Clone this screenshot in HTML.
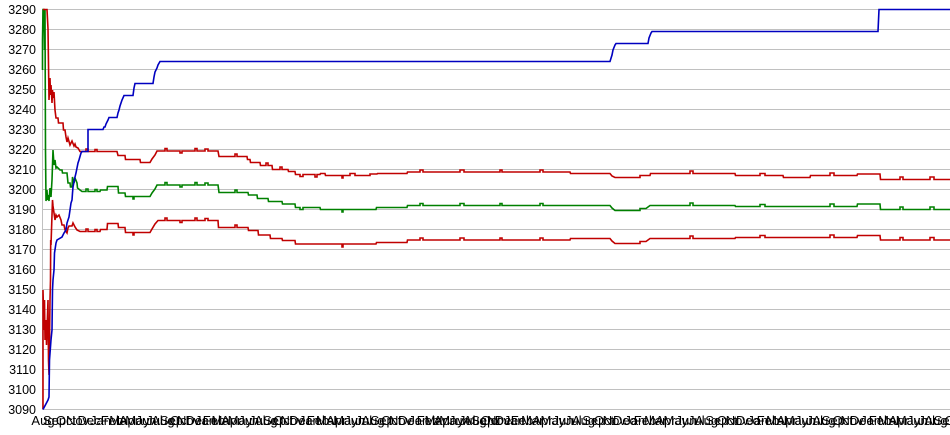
<!DOCTYPE html>
<html><head><meta charset="utf-8"><style>
html,body{margin:0;padding:0;background:#fff;}
svg{display:block;}
text{font-family:"Liberation Sans",Arial,sans-serif;}
</style></head><body>
<svg width="950" height="435" viewBox="0 0 950 435" xmlns="http://www.w3.org/2000/svg">
<rect width="950" height="435" fill="#fff"/>
<g stroke="#c0c0c0" stroke-width="1">
<line x1="43" y1="9.5" x2="950" y2="9.5"/><line x1="43" y1="29.5" x2="950" y2="29.5"/><line x1="43" y1="49.5" x2="950" y2="49.5"/><line x1="43" y1="69.5" x2="950" y2="69.5"/><line x1="43" y1="89.5" x2="950" y2="89.5"/><line x1="43" y1="109.5" x2="950" y2="109.5"/><line x1="43" y1="129.5" x2="950" y2="129.5"/><line x1="43" y1="149.5" x2="950" y2="149.5"/><line x1="43" y1="169.5" x2="950" y2="169.5"/><line x1="43" y1="189.5" x2="950" y2="189.5"/><line x1="43" y1="209.5" x2="950" y2="209.5"/><line x1="43" y1="229.5" x2="950" y2="229.5"/><line x1="43" y1="249.5" x2="950" y2="249.5"/><line x1="43" y1="269.5" x2="950" y2="269.5"/><line x1="43" y1="289.5" x2="950" y2="289.5"/><line x1="43" y1="309.5" x2="950" y2="309.5"/><line x1="43" y1="329.5" x2="950" y2="329.5"/><line x1="43" y1="349.5" x2="950" y2="349.5"/><line x1="43" y1="369.5" x2="950" y2="369.5"/><line x1="43" y1="389.5" x2="950" y2="389.5"/><line x1="43" y1="409.5" x2="950" y2="409.5"/>
<line x1="42.5" y1="9.5" x2="42.5" y2="409.5"/>
</g>
<g font-size="12.5" fill="#000" text-anchor="end">
<text x="36" y="14">3290</text><text x="36" y="34">3280</text><text x="36" y="54">3270</text><text x="36" y="74">3260</text><text x="36" y="94">3250</text><text x="36" y="114">3240</text><text x="36" y="134">3230</text><text x="36" y="154">3220</text><text x="36" y="174">3210</text><text x="36" y="194">3200</text><text x="36" y="214">3190</text><text x="36" y="234">3180</text><text x="36" y="254">3170</text><text x="36" y="274">3160</text><text x="36" y="294">3150</text><text x="36" y="314">3140</text><text x="36" y="334">3130</text><text x="36" y="354">3120</text><text x="36" y="374">3110</text><text x="36" y="394">3100</text><text x="36" y="414">3090</text>
</g>
<g font-size="13" fill="#000" text-anchor="middle">
<text x="43" y="425">Aug</text><text x="54.5" y="425">Sep</text><text x="66" y="425">Oct</text><text x="77.5" y="425">Nov</text><text x="89" y="425">Dec</text><text x="100.5" y="425">Jan</text>
<text x="112" y="425">Feb</text><text x="120.5" y="425">Mar</text><text x="129" y="425">Apr</text><text x="137.5" y="425">May</text><text x="146" y="425">Jun</text><text x="154.5" y="425">Jul</text><text x="163" y="425">Aug</text><text x="171.5" y="425">Sep</text><text x="180" y="425">Oct</text><text x="188.5" y="425">Nov</text><text x="197" y="425">Dec</text><text x="205.5" y="425">Jan</text>
<text x="214" y="425">Feb</text><text x="222.7" y="425">Mar</text><text x="231.3" y="425">Apr</text><text x="240" y="425">May</text><text x="248.7" y="425">Jun</text><text x="257.3" y="425">Jul</text><text x="266" y="425">Aug</text><text x="274.7" y="425">Sep</text><text x="283.3" y="425">Oct</text><text x="292" y="425">Nov</text><text x="300.7" y="425">Dec</text><text x="309.3" y="425">Jan</text>
<text x="318" y="425">Feb</text><text x="327.2" y="425">Mar</text><text x="336.3" y="425">Apr</text><text x="345.5" y="425">May</text><text x="354.7" y="425">Jun</text><text x="363.8" y="425">Jul</text><text x="373" y="425">Aug</text><text x="382.2" y="425">Sep</text><text x="391.3" y="425">Oct</text><text x="400.5" y="425">Nov</text><text x="409.7" y="425">Dec</text><text x="418.8" y="425">Jan</text>
<text x="428" y="425">Feb</text><text x="435.8" y="425">Mar</text><text x="443.7" y="425">Apr</text><text x="451.5" y="425">May</text><text x="459.3" y="425">Jun</text><text x="467.2" y="425">Jul</text><text x="475" y="425">Aug</text><text x="482.8" y="425">Sep</text><text x="490.7" y="425">Oct</text><text x="498.5" y="425">Nov</text><text x="506.3" y="425">Dec</text><text x="514.2" y="425">Jan</text>
<text x="522" y="425">Feb</text><text x="532.3" y="425">Mar</text><text x="542.5" y="425">Apr</text><text x="552.8" y="425">May</text><text x="563" y="425">Jun</text><text x="573.3" y="425">Jul</text><text x="583.5" y="425">Aug</text><text x="593.8" y="425">Sep</text><text x="604" y="425">Oct</text><text x="614.3" y="425">Nov</text><text x="624.5" y="425">Dec</text><text x="634.8" y="425">Jan</text>
<text x="645" y="425">Feb</text><text x="655.3" y="425">Mar</text><text x="665.5" y="425">Apr</text><text x="675.8" y="425">May</text><text x="686" y="425">Jun</text><text x="696.3" y="425">Jul</text><text x="706.5" y="425">Aug</text><text x="716.8" y="425">Sep</text><text x="727" y="425">Oct</text><text x="737.3" y="425">Nov</text><text x="747.5" y="425">Dec</text><text x="757.8" y="425">Jan</text>
<text x="768" y="425">Feb</text><text x="777.3" y="425">Mar</text><text x="786.7" y="425">Apr</text><text x="796" y="425">May</text><text x="805.3" y="425">Jun</text><text x="814.7" y="425">Jul</text><text x="824" y="425">Aug</text><text x="833.3" y="425">Sep</text><text x="842.7" y="425">Oct</text><text x="852" y="425">Nov</text><text x="861.3" y="425">Dec</text><text x="870.7" y="425">Jan</text>
<text x="880" y="425">Feb</text><text x="889.3" y="425">Mar</text><text x="898.7" y="425">Apr</text><text x="908" y="425">May</text><text x="917.3" y="425">Jun</text><text x="926.7" y="425">Jul</text><text x="936" y="425">Aug</text><text x="945.3" y="425">Sep</text><text x="954.7" y="425">Oct</text>
</g>
<g fill="none" stroke-width="1.6" stroke-linejoin="miter">
<polyline stroke="#008000" points="42.5,70 42.5,40 43,9.5 44,9.5 44.5,50 45,9.5 45.5,150 46,201 47,190 47.5,200 48,195 49,201 50,188 51,197 52,180 53,150 54,165 55,160 56,168 57,167 60,170 62,170 62.5,173 67,173 68,183 70,183 70.5,187 72,187 72.5,177 74,183 75,178 77,183 77.5,188 80,190 82,191.5 86,191.5 86,189 88,189 88,191.5 95,191.5 95,189.5 97,189.5 97,191.5 100,191.5 100.5,190 107,190 107.5,186.5 118,186.5 118.5,193 125,193 125.5,196.5 133,196.5 133,199 134,199 134,196.5 150,196.5 152,193 155,189 157,185 165,185 165,182.5 167,182.5 167,185 180,185 180,187 182,187 182,185 195,185 195,182.5 197,182.5 197,185 205,185 205,183 208,183 208,185 218,185 219,192.5 235,192.5 235,190 237,190 237,192.5 248,192.5 248.5,195 257,195 257.5,198.5 268,198.5 268.5,201.5 282,201.5 282.5,204 295,204 295.5,207.5 300,207.5 300,209.5 303,209.5 303,207.5 320,207.5 320.5,209.5 342,209.5 342,212 343,212 343,209.5 376,209.5 376.5,207.5 407,207.5 407.5,205.5 420,205.5 420,203.5 423,203.5 423,205.5 460,205.5 460,203.5 464,203.5 464,205.5 500,205.5 500,203.5 502,203.5 502,205.5 540,205.5 540,203.5 543,203.5 543,205.5 610,205.5 612,208 615,210.5 640,210.5 640,208.5 646,208.5 650,205.5 690,205.5 690,203 693,203 693,205.5 735,205.5 735.5,206.5 760,206.5 760,204.5 765,204.5 765,206.5 830,206.5 830,204 834,204 834,206.5 857,206.5 857.5,204 880,204 880.5,209.5 900,209.5 900,207 903,207 903,209.5 930,209.5 930,207 934,207 934,209.5 950,209.5"/>
<polyline stroke="#c00000" points="43,9.5 47,9.5 48,29 49,100 50,78 50.5,95 51,85 52,103 52.5,90 53,98 54,92 55,110 56,118 58,118 58.5,123 63,123 63.5,130 65,130 66,137 67,142 68,138 70,145 72,141 74,146 75,144 76,147 78,148 80,151.5 86,151.5 86,149 88,149 88,151.5 95,151.5 95,149.5 97,149.5 97,151.5 117,151.5 118,155.5 125,155.5 125.5,159.5 140,159.5 140.5,162.5 150,162.5 152,159 155,155 157,151 165,151 165,148.5 167,148.5 167,151 180,151 180,153 182,153 182,151 195,151 195,148.5 197,148.5 197,151 205,151 205,149 208,149 208,151 218,151 219,156.5 235,156.5 235,154 237,154 237,156.5 247,156.5 247.5,159.5 250,159.5 250.5,162.5 260,162.5 260.5,165.5 266,165.5 266,163 268,163 268,165.5 272,165.5 272.5,169.5 280,169.5 280,167 282,167 282,169.5 288,169.5 288.5,171.5 295,171.5 295.5,174.5 300,174.5 300,176.5 303,176.5 303,174.5 315,174.5 315,177 317,177 317,174.5 320,174.5 320.5,173.5 325,173.5 325.5,175.5 342,175.5 342,178 343,178 343,175.5 350,175.5 350,173.5 355,173.5 355,175.5 370,175.5 370,174 377,174 377.5,173.5 407,173.5 407.5,172 420,172 420,170 423,170 423,172 460,172 460,170 464,170 464,172 500,172 500,170 502,170 502,172 540,172 540,170 543,170 543,172 570,172 570.5,173.5 610,173.5 612,176 615,177.5 640,177.5 640,175.5 650,175.5 650.5,173.5 690,173.5 690,171 693,171 693,173.5 735,173.5 735.5,175.5 760,175.5 760,173.5 765,173.5 765,175.5 783,175.5 783.5,177.5 810,177.5 810.5,175.5 830,175.5 830,173 834,173 834,175.5 857,175.5 857.5,174 880,174 880.5,179.5 900,179.5 900,177 903,177 903,179.5 930,179.5 930,177 934,177 934,179.5 950,179.5"/>
<polyline stroke="#c00000" points="43,409.5 43,290 44,330 44.5,300 45,340 46,320 46.5,345 47,330 48,300 48.5,360 49,375 49.5,340 50,300 50.5,280 50.7,240 51,245 52,215 52.5,200 53,206 54,213 55,220 56,215 57,217 59,215 61,220 62,225 64,225 65,230 67,233 68,228 69,226 72,226 73,223 75,227 77,230 80,231.5 86,231.5 86,229 88,229 88,231.5 95,231.5 95,229.5 97,229.5 97,231.5 100,231.5 100.5,229.5 107,229.5 107.5,223.5 118,223.5 118.5,227.5 125,227.5 125.5,232.5 133,232.5 133,235 134,235 134,232.5 150,232.5 152,229 155,224 158,220.5 165,220.5 165,218 167,218 167,220.5 180,220.5 180,222.5 182,222.5 182,220.5 195,220.5 195,218 197,218 197,220.5 205,220.5 205,218.5 208,218.5 208,220.5 218,220.5 218.5,227.5 235,227.5 235,225 237,225 237,227.5 248,227.5 248.5,230.5 258,230.5 258.5,235 270,235 270.5,238.5 282,238.5 282.5,240.5 295,240.5 295.5,244 342,244 342,247 343,247 343,244 376,244 376.5,242.5 407,242.5 407.5,240 420,240 420,238 423,238 423,240 460,240 460,238 464,238 464,240 500,240 500,238 502,238 502,240 540,240 540,238 543,238 543,240 570,240 570.5,238.5 610,238.5 612,241 615,243.5 640,243.5 640,241.5 646,241.5 650,238.5 690,238.5 690,236 693,236 693,238.5 735,238.5 735.5,237.5 760,237.5 760,235.5 765,235.5 765,237.5 830,237.5 830,235 834,235 834,237.5 857,237.5 857.5,235.5 880,235.5 880.5,240 900,240 900,237.5 903,237.5 903,240 930,240 930,237.5 934,237.5 934,240 950,240"/>
<polyline stroke="#0000c0" points="43,409.5 48,400 49,397 49.5,360 51,340 52,330 52.5,290 53,280 54,270 54.5,253 56,243 57,240 62,237 64,233 66,230 67,223 69,217 70,210 71,203 72,200 72.5,193 73,187 75,177 76,173 78,163 79,160 81,153 82,151.5 88,151.5 88,129.5 103,129.5 104,127 105,127 106,124 107,122 108,120 109,117.5 117,117.5 118,113 119,110 120,106 121,103 122,100 124,95.5 133,95.5 134,88 135,83.5 153,83.5 154,77 155,72 157,68 158,65 160,61.5 610,61.5 612,55 613,50 615,45 616,43.5 648,43.5 649,38 651,33 652,31.5 878,31.5 879,9.5 950,9.5"/>
</g>
</svg>
</body></html>
